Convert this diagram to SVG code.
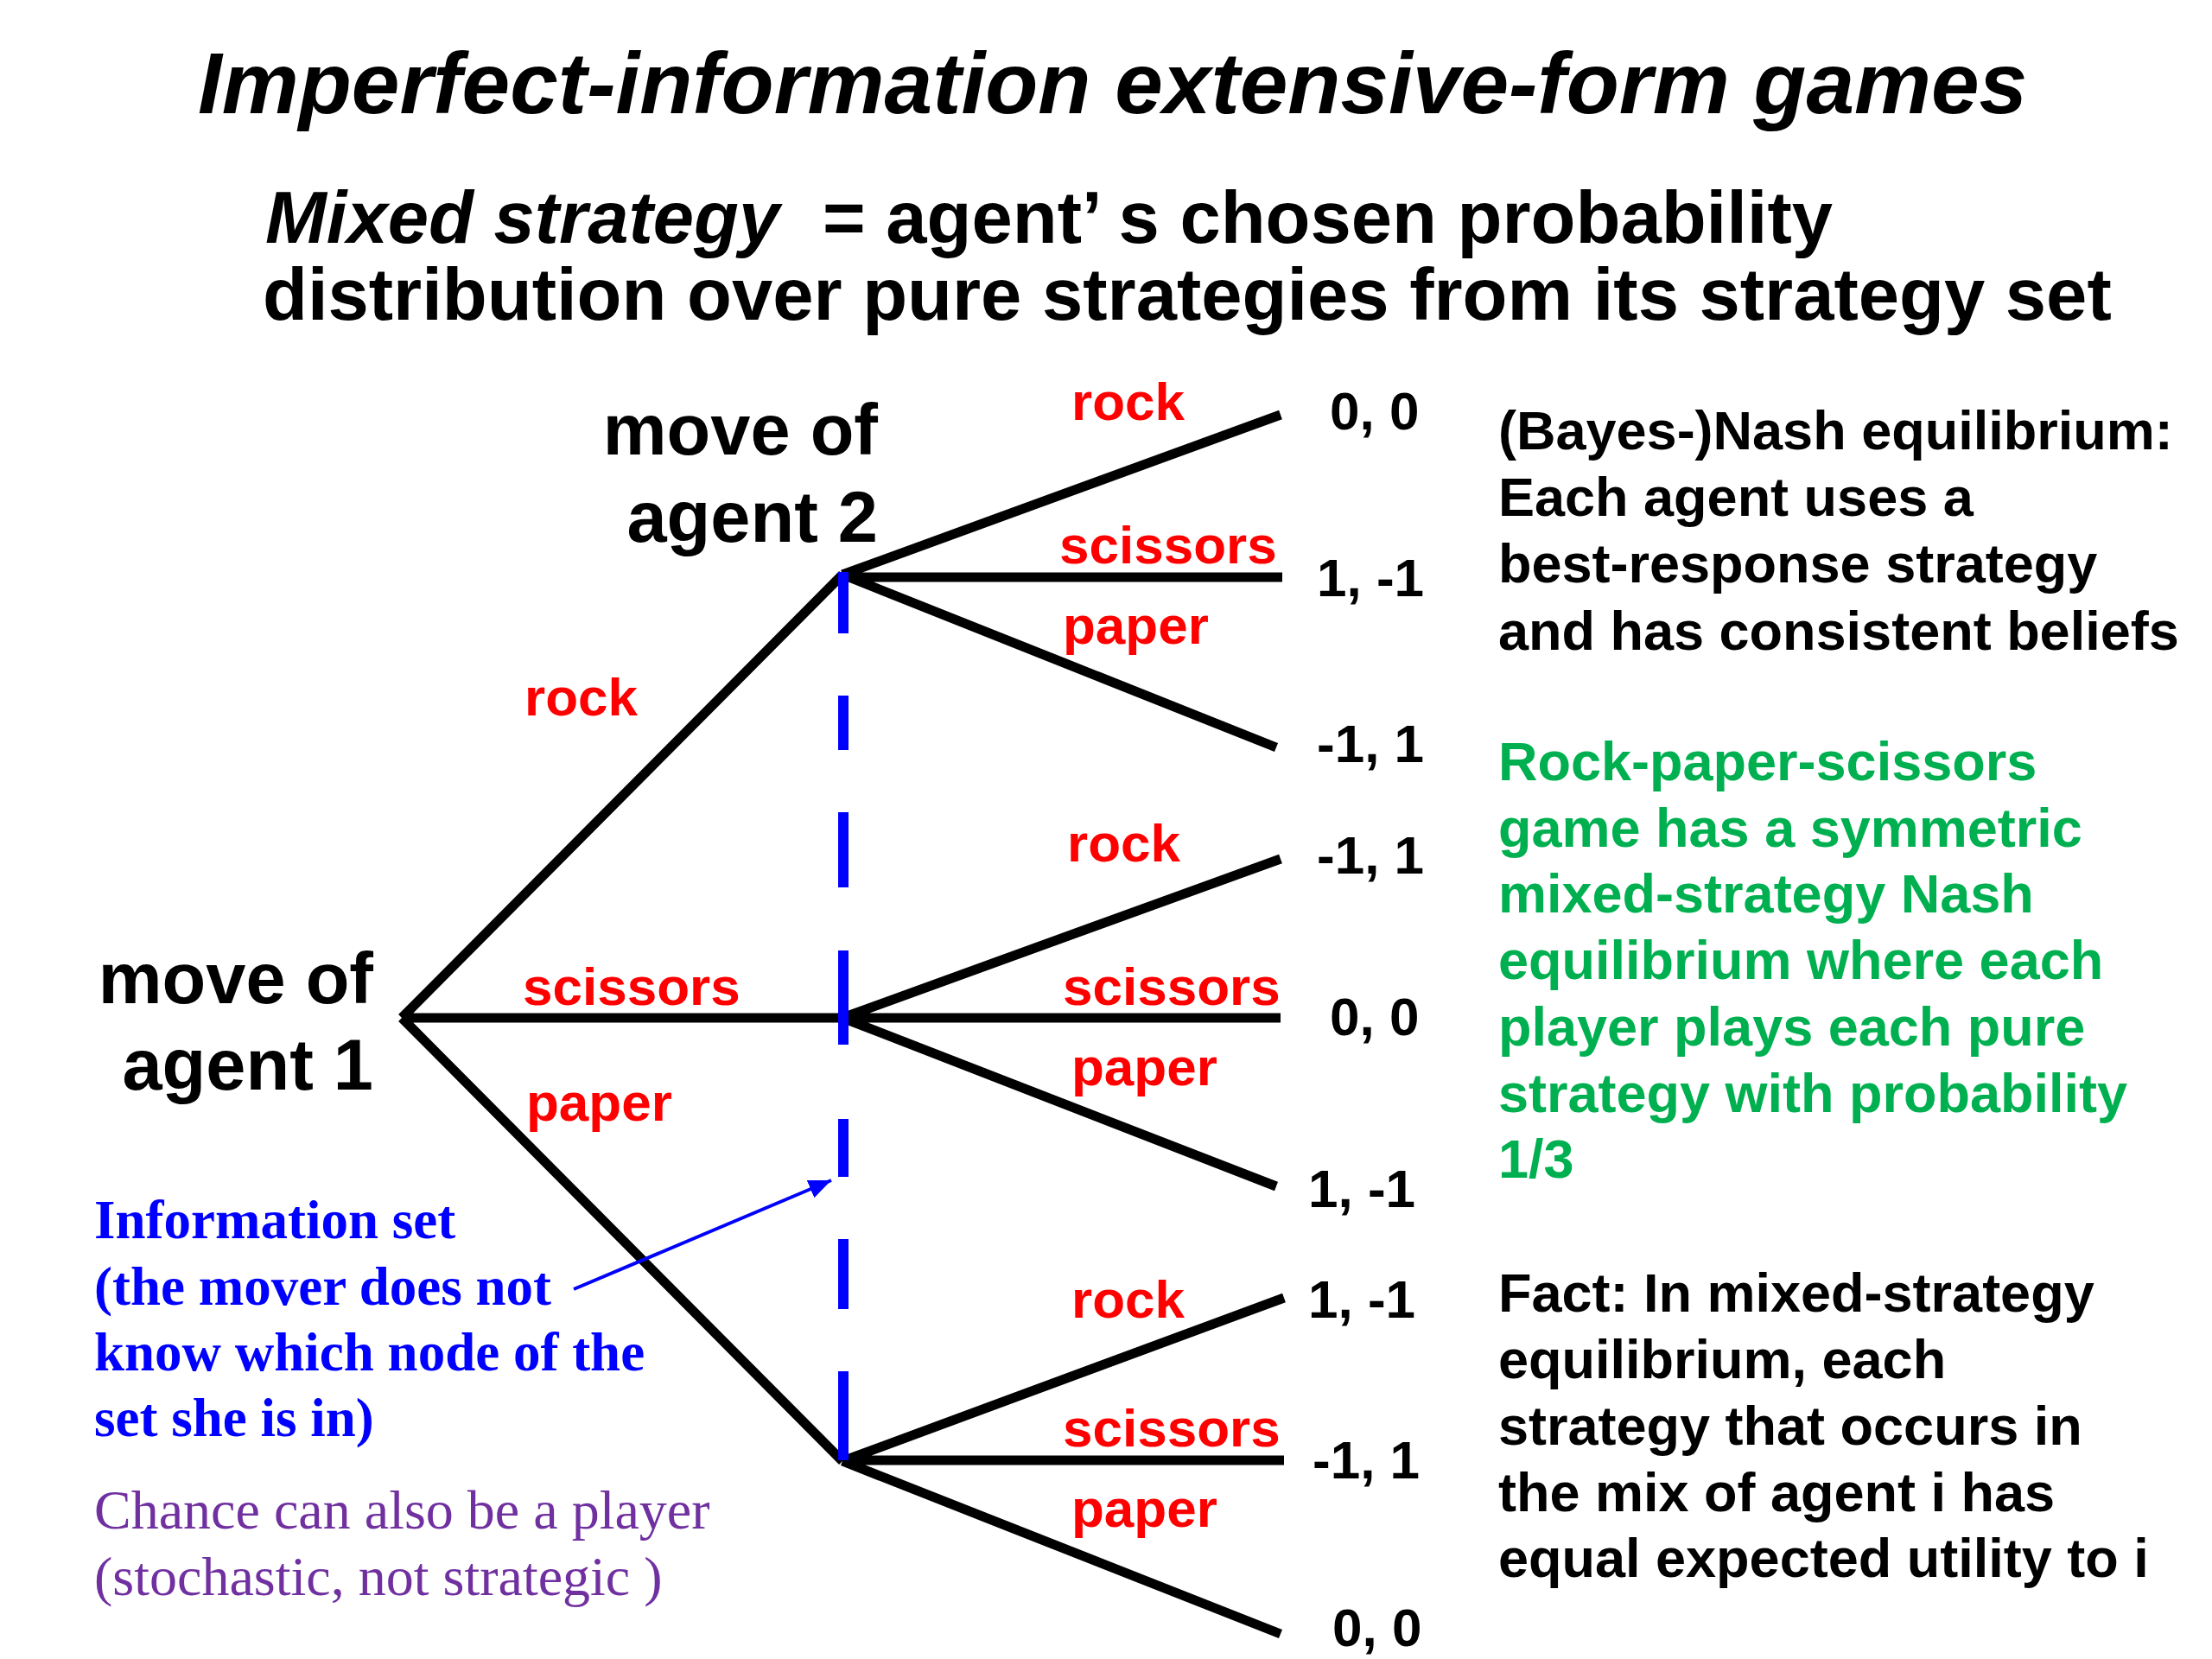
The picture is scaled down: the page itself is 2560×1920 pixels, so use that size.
<svg xmlns="http://www.w3.org/2000/svg" width="2560" height="1920" viewBox="0 0 2560 1920">
<defs>
<style>
.sans{font-family:"Liberation Sans",Arial,sans-serif;font-weight:bold}
.title{font-size:100px;font-style:italic}
.sub{font-size:85px}
.node{font-size:83px;text-anchor:end}
.act{font-size:62px;fill:#ff0000}
.pay{font-size:62px;fill:#000}
.note{font-size:63px}
.green{fill:#00b050}
.info{font-family:"Liberation Serif","Times New Roman",serif;font-weight:bold;font-size:63px;fill:#0000ff}
.chance{font-family:"Liberation Serif","Times New Roman",serif;font-size:64px;fill:#7030a0}
.edge{stroke:#000;stroke-width:11;fill:none;stroke-linecap:butt}
.infoset{stroke:#0000ff;stroke-width:12;fill:none}
.pointer{stroke:#0000ff;stroke-width:4;fill:none}
</style>
<marker id="ah" markerUnits="userSpaceOnUse" markerWidth="30" markerHeight="24" refX="26" refY="11" orient="auto">
<path d="M0,0 L26,11 L0,22 Z" fill="#0000ff"/>
</marker>
</defs>
<rect width="2560" height="1920" fill="#ffffff"/>

<g id="title">
<text class="sans title" x="229" y="131">Imperfect-information extensive-form games</text>
</g>
<g id="subtitle">
<text class="sans sub" x="307" y="281"><tspan font-style="italic">Mixed strategy</tspan></text>
<text class="sans sub" x="952" y="281">= agent’ s chosen probability</text>
<text class="sans sub" x="304" y="370">distribution over pure strategies from its strategy set</text>
</g>

<g id="connectors">
<path class="edge" d="M465,1178 L975,665 M465,1178 L975,1178 M465,1178 L975,1691"/>
<path class="edge" d="M975,665 L1482,480 M975,668 L1484,668 M975,665 L1477,865"/>
<path class="edge" d="M975,1178 L1482,994 M975,1178 L1482,1178 M975,1178 L1477,1373"/>
<path class="edge" d="M975,1691 L1486,1502 M975,1690 L1486,1690 M975,1691 L1482,1891"/>
<path class="infoset" d="M976,662 V733 M976,805 V868 M976,940 V1027 M976,1100 V1209 M976,1295 V1362 M976,1434 V1515 M976,1587 V1690"/>
<path class="pointer" d="M664,1492 L962,1366" marker-end="url(#ah)"/>
</g>

<g id="agent1">
<text class="sans node" x="432" y="1161">move of</text>
<text class="sans node" x="432" y="1261">agent 1</text>
<text class="sans act" x="607" y="828">rock</text>
<text class="sans act" x="605" y="1163">scissors</text>
<text class="sans act" x="609" y="1297">paper</text>
</g>

<g id="agent2">
<text class="sans node" x="1016" y="526">move of</text>
<text class="sans node" x="1016" y="627">agent 2</text>
</g>

<g id="agent2-after-rock">
<text class="sans act" x="1240" y="486">rock</text>
<text class="sans act" x="1226" y="652">scissors</text>
<text class="sans act" x="1230" y="745">paper</text>
<text class="sans pay" x="1539" y="497">0, 0</text>
<text class="sans pay" x="1524" y="690">1, -1</text>
<text class="sans pay" x="1524" y="882">-1, 1</text>
</g>

<g id="agent2-after-scissors">
<text class="sans act" x="1235" y="997">rock</text>
<text class="sans act" x="1230" y="1163">scissors</text>
<text class="sans act" x="1240" y="1256">paper</text>
<text class="sans pay" x="1524" y="1011">-1, 1</text>
<text class="sans pay" x="1539" y="1198">0, 0</text>
<text class="sans pay" x="1514" y="1397">1, -1</text>
</g>

<g id="agent2-after-paper">
<text class="sans act" x="1240" y="1525">rock</text>
<text class="sans act" x="1230" y="1674">scissors</text>
<text class="sans act" x="1240" y="1767">paper</text>
<text class="sans pay" x="1514" y="1525">1, -1</text>
<text class="sans pay" x="1519" y="1711">-1, 1</text>
<text class="sans pay" x="1542" y="1905">0, 0</text>
</g>

<g id="info-set-note">
<text class="info" x="109" y="1433">Information set</text>
<text class="info" x="109" y="1510">(the mover does not</text>
<text class="info" x="109" y="1586">know which node of the</text>
<text class="info" x="109" y="1662">set she is in)</text>
</g>

<g id="chance-note">
<text class="chance" x="109" y="1769">Chance can also be a player</text>
<text class="chance" x="109" y="1846">(stochastic, not strategic )</text>
</g>

<g id="nash-note">
<text class="sans note" x="1734" y="520">(Bayes-)Nash equilibrium:</text>
<text class="sans note" x="1734" y="597">Each agent uses a</text>
<text class="sans note" x="1734" y="674">best-response strategy</text>
<text class="sans note" x="1734" y="752">and has consistent beliefs</text>
</g>

<g id="rps-note">
<text class="sans note green" x="1734" y="903">Rock-paper-scissors</text>
<text class="sans note green" x="1734" y="980">game has a symmetric</text>
<text class="sans note green" x="1734" y="1056">mixed-strategy Nash</text>
<text class="sans note green" x="1734" y="1133">equilibrium where each</text>
<text class="sans note green" x="1734" y="1210">player plays each pure</text>
<text class="sans note green" x="1734" y="1287">strategy with probability</text>
<text class="sans note green" x="1734" y="1363">1/3</text>
</g>

<g id="fact-note">
<text class="sans note" x="1734" y="1518">Fact: In mixed-strategy</text>
<text class="sans note" x="1734" y="1595">equilibrium, each</text>
<text class="sans note" x="1734" y="1672">strategy that occurs in</text>
<text class="sans note" x="1734" y="1749">the mix of agent i has</text>
<text class="sans note" x="1734" y="1825">equal expected utility to i</text>
</g>
</svg>
